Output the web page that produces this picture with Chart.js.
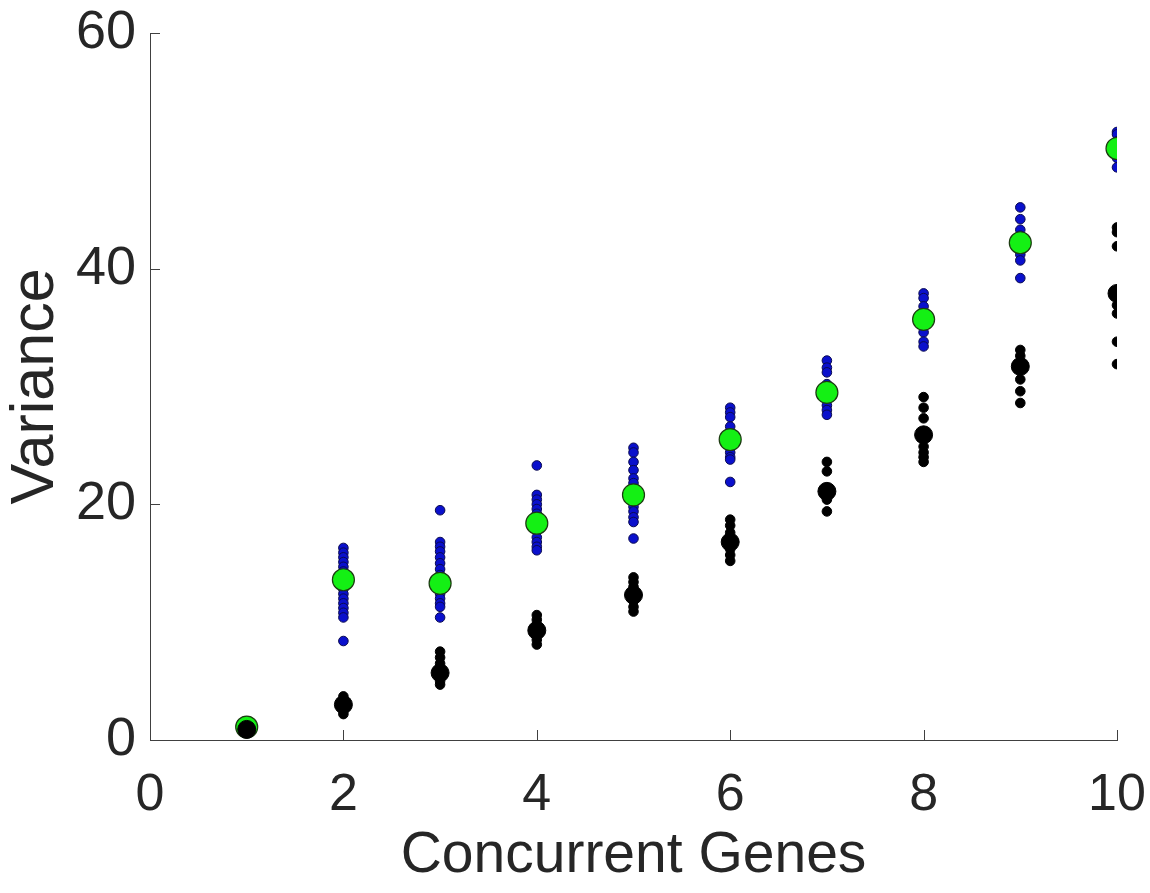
<!DOCTYPE html>
<html>
<head>
<meta charset="utf-8">
<title>Variance vs Concurrent Genes</title>
<script src="https://cdn.jsdelivr.net/npm/chart.js@4.4.0/dist/chart.umd.min.js"></script>
<style>
  html, body { margin: 0; padding: 0; background: #fff; }
</style>
</head>
<body>
<canvas id="varianceChart" width="1150" height="893"></canvas>
<script>
// number of concurrent genes
const genes = [1, 2, 3, 4, 5, 6, 7, 8, 9, 10];

// blue samples per gene count
const blueSamples = [
  [1.0, 1.1, 1.2],
  [16.3, 15.9, 15.5, 15.1, 14.7, 14.3, 14.0, 13.2, 12.8, 12.4, 12.0, 11.6, 11.2, 10.8, 10.4, 8.4],
  [19.5, 16.8, 16.4, 16.0, 15.5, 15.0, 14.5, 14.0, 12.8, 12.4, 12.0, 11.6, 11.3, 10.4],
  [23.3, 20.8, 20.4, 20.0, 19.6, 19.2, 18.8, 17.8, 17.2, 16.8, 16.4, 16.1],
  [24.8, 24.4, 23.6, 22.9, 22.2, 21.8, 20.2, 19.8, 19.4, 18.9, 18.5, 17.1],
  [28.2, 27.8, 27.4, 26.6, 24.8, 24.4, 24.0, 23.8, 21.9],
  [32.2, 31.6, 31.2, 30.2, 28.4, 28.0, 27.6],
  [37.9, 37.5, 36.8, 34.6, 33.8, 33.4],
  [45.2, 44.2, 43.3, 42.8, 41.2, 40.7, 39.2],
  [51.6, 51.4, 50.8, 49.4, 48.6]
];

// black samples per gene count
const blackSamples = [
  [0.8, 1.0],
  [3.7, 3.4, 3.1, 2.8, 2.5, 2.2],
  [7.5, 7.0, 6.5, 6.1, 5.3, 5.0, 4.7],
  [10.6, 10.2, 9.8, 8.9, 8.5, 8.1],
  [13.8, 13.4, 13.0, 12.6, 11.8, 11.3, 10.9],
  [18.7, 18.2, 17.6, 16.2, 15.7, 15.2],
  [23.6, 22.8, 20.4, 19.4],
  [29.1, 28.2, 27.3, 24.9, 24.4, 24.0, 23.6],
  [33.1, 32.6, 30.6, 29.6, 28.6],
  [43.5, 43.1, 41.9, 36.9, 36.2, 33.8, 31.9]
];

// means
const greenMeans = [1.1, 13.6, 13.3, 18.4, 20.8, 25.5, 29.5, 35.7, 42.2, 50.2];
const blackMeans = [0.9, 3.0, 5.7, 9.3, 12.3, 16.8, 21.1, 25.9, 31.7, 37.9];

const xTicks = [0, 2, 4, 6, 8, 10];
const yTicks = [0, 20, 40, 60];

const toPoints = (groups) => groups.flatMap((vals, i) => vals.map(v => ({ x: genes[i], y: v })));
const meanPoints = (vals) => vals.map((v, i) => ({ x: genes[i], y: v }));

const axisColor = '#404040';
const textColor = '#262626';
const FONT = '"Liberation Sans", Arial, sans-serif';

// tick marks pointing into the plot, like the original figure
const inwardTicks = {
  id: 'inwardTicks',
  afterDatasetsDraw(chart) {
    const { ctx, chartArea, scales } = chart;
    ctx.save();
    ctx.strokeStyle = axisColor;
    ctx.lineWidth = 1;
    ctx.beginPath();
    xTicks.forEach(t => {
      const px = Math.round(scales.x.getPixelForValue(t)) + 0.5;
      ctx.moveTo(px, chartArea.bottom);
      ctx.lineTo(px, chartArea.bottom - 10);
    });
    yTicks.forEach(t => {
      const py = Math.round(scales.y.getPixelForValue(t)) + 0.5;
      ctx.moveTo(chartArea.left, py);
      ctx.lineTo(chartArea.left + 10, py);
    });
    ctx.stroke();
    ctx.restore();
  }
};

const ctx = document.getElementById('varianceChart').getContext('2d');
new Chart(ctx, {
  type: 'scatter',
  data: {
    datasets: [
      {
        label: 'Black mean',
        data: meanPoints(blackMeans),
        backgroundColor: '#000000',
        borderColor: '#000000',
        borderWidth: 1,
        pointRadius: 9,
        order: 0
      },
      {
        label: 'Green mean',
        data: meanPoints(greenMeans),
        backgroundColor: '#14f014',
        borderColor: '#1d3a12',
        borderWidth: 1.2,
        pointRadius: 11,
        order: 1
      },
      {
        label: 'Blue samples',
        data: toPoints(blueSamples),
        backgroundColor: '#0a10cc',
        borderColor: '#0a0a50',
        borderWidth: 1,
        pointRadius: 4.8,
        order: 2
      },
      {
        label: 'Black samples',
        data: toPoints(blackSamples),
        backgroundColor: '#000000',
        borderColor: '#000000',
        borderWidth: 1,
        pointRadius: 4.8,
        order: 3
      }
    ]
  },
  options: {
    responsive: false,
    animation: false,
    layout: { padding: { top: 33, right: 33, left: 0, bottom: 0 } },
    plugins: {
      legend: { display: false },
      tooltip: { enabled: false }
    },
    scales: {
      x: {
        type: 'linear',
        min: 0,
        max: 10,
        afterBuildTicks: (scale) => { scale.ticks = xTicks.map(v => ({ value: v })); },
        afterFit: (scale) => {
          scale.height = 153;
          scale.paddingLeft = 0;
          scale.paddingRight = 0;
        },
        grid: { display: true, drawOnChartArea: false, drawTicks: false },
        border: { display: true, color: axisColor, width: 1 },
        ticks: {
          padding: 24,
          color: textColor,
          font: { family: FONT, size: 52 },
          maxRotation: 0
        },
        title: {
          display: true,
          text: 'Concurrent Genes',
          color: textColor,
          font: { family: FONT, size: 57, lineHeight: 1 },
          padding: { top: 0, bottom: 8 }
        }
      },
      y: {
        type: 'linear',
        min: 0,
        max: 60,
        afterBuildTicks: (scale) => { scale.ticks = yTicks.map(v => ({ value: v })); },
        afterFit: (scale) => {
          scale.width = 150;
          scale.paddingTop = 0;
          scale.paddingBottom = 0;
        },
        grid: { display: true, drawOnChartArea: false, drawTicks: false },
        border: { display: true, color: axisColor, width: 1 },
        ticks: {
          padding: 14,
          color: textColor,
          font: { family: FONT, size: 54 }
        },
        title: {
          display: true,
          text: 'Variance',
          color: textColor,
          font: { family: FONT, size: 61, lineHeight: 1 },
          padding: { top: 6, bottom: 0 }
        }
      }
    }
  },
  plugins: [inwardTicks]
});
</script>
</body>
</html>
